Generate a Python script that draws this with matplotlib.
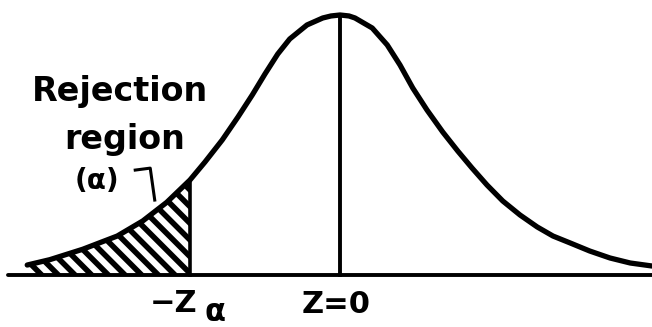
import matplotlib
matplotlib.use("Agg")
import matplotlib.pyplot as plt
import numpy as np

# curve points (z units, density)
z_pts = [-4.17, -3.87, -3.43, -2.97, -2.63, -2.31, -2.0, -1.8, -1.57, -1.36, -1.17,
         -1.0, -0.83, -0.67, -0.44, -0.23, -0.12, 0.0, 0.12, 0.2, 0.43, 0.63, 0.8,
         0.97, 1.16, 1.37, 1.57, 1.76, 1.96, 2.17, 2.4, 2.63, 2.84, 3.07, 3.33,
         3.6, 3.87, 4.16]
f_pts = [0.0153, 0.0235, 0.0395, 0.0598, 0.0829, 0.1115, 0.1458, 0.1734, 0.2072, 0.2425, 0.2762,
         0.3085, 0.3391, 0.3622, 0.3837, 0.3944, 0.3975, 0.399, 0.3975, 0.3944, 0.379, 0.353, 0.3223,
         0.287, 0.2532, 0.2194, 0.1903, 0.1642, 0.1381, 0.1136, 0.0921, 0.0737, 0.0598, 0.0491, 0.0368,
         0.0261, 0.0184, 0.0138]
z_crit = -2.0
z_mean = 0.0

z = np.array(z_pts)
f = np.array(f_pts)

plt.rcParams['hatch.linewidth'] = 4.0
plt.rcParams['font.family'] = ['DejaVu Sans']

fig = plt.figure(figsize=(6.52, 3.27), dpi=100)
ax = fig.add_axes([0, 0, 1, 1])
ax.set_xlim(-4.533, 4.16)
ax.set_ylim(-0.0798, 0.422)
ax.axis('off')

# baseline
ax.plot([-4.43, 4.16], [0, 0], color='black', lw=2.8, solid_capstyle='round')

# shaded rejection region
m = z <= z_crit
ax.fill_between(z[m], 0, f[m], facecolor='white', edgecolor='black',
                hatch='\\\\', linewidth=0)

# curve
ax.plot(z, f, color='black', lw=3.8, solid_capstyle='round', solid_joinstyle='round')

# verticals
f_crit = f[z == z_crit][0]
f_peak = f[z == z_mean][0]
ax.plot([z_crit, z_crit], [0, f_crit], color='black', lw=2.6)
ax.plot([z_mean, z_mean], [0, f_peak], color='black', lw=2.8)

# labels
ax.text(-2.93, 0.282, "Rejection", ha='center', va='center', fontsize=24, fontweight='bold')
ax.text(-2.87, 0.208, "region", ha='center', va='center', fontsize=24, fontweight='bold')
ax.text(-3.24, 0.144, "(α)", ha='center', va='center', fontsize=20, fontweight='bold')
ax.plot([-2.73, -2.53, -2.47], [0.161, 0.164, 0.115], color='black', lw=2.2)

ax.text(-2.22, -0.043, "−Z", ha='center', va='center', fontsize=22, fontweight='bold')
ax.text(-1.66, -0.058, "α", ha='center', va='center', fontsize=22, fontweight='bold')
ax.text(-0.05, -0.046, "Z=0", ha='center', va='center', fontsize=22, fontweight='bold')

fig.savefig("out.png", dpi=100)
